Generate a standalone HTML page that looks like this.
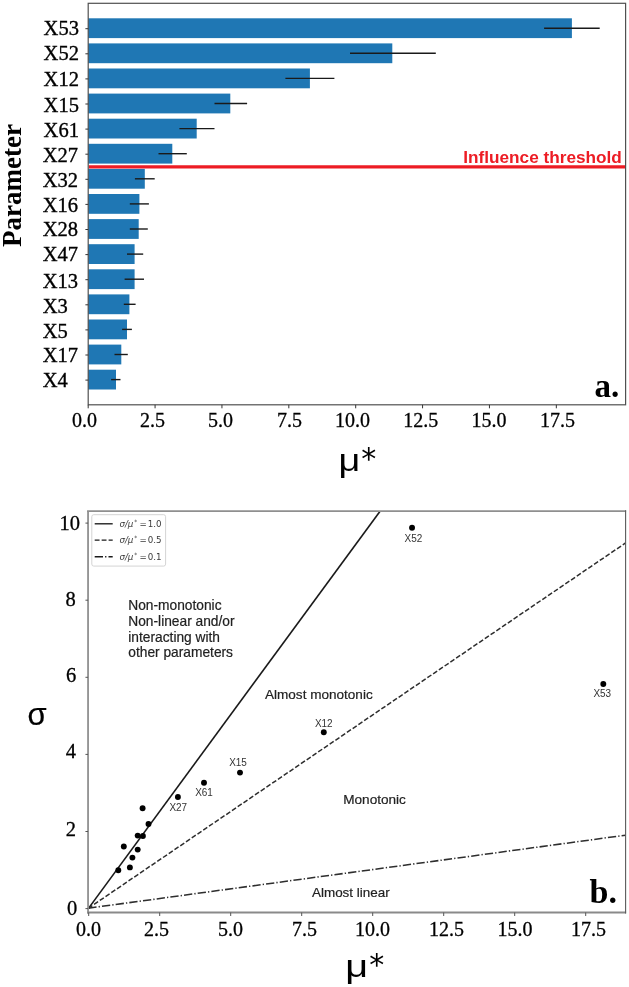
<!DOCTYPE html>
<html lang="en"><head><meta charset="utf-8"><title>Sensitivity analysis</title>
<style>html,body{margin:0;padding:0;background:#fff}svg{display:block}.ser{font-family:"Liberation Serif","DejaVu Serif",serif}.san{font-family:"Liberation Sans","DejaVu Sans",sans-serif}.dv{font-family:"DejaVu Sans","Liberation Sans",sans-serif}</style></head><body>
<svg width="629" height="987" viewBox="0 0 629 987">
<rect x="0" y="0" width="629" height="987" fill="#ffffff"/>
<g id="chart-a">
<g fill="#1f77b4">
<rect x="88.2" y="18.30" width="483.7" height="19.8"/>
<rect x="88.2" y="43.40" width="304.1" height="19.8"/>
<rect x="88.2" y="68.50" width="221.7" height="19.8"/>
<rect x="88.2" y="93.60" width="142.1" height="19.8"/>
<rect x="88.2" y="118.70" width="108.5" height="19.8"/>
<rect x="88.2" y="143.80" width="84.1" height="19.8"/>
<rect x="88.2" y="168.90" width="56.6" height="19.8"/>
<rect x="88.2" y="194.00" width="51.2" height="19.8"/>
<rect x="88.2" y="219.10" width="50.5" height="19.8"/>
<rect x="88.2" y="244.20" width="46.4" height="19.8"/>
<rect x="88.2" y="269.30" width="46.4" height="19.8"/>
<rect x="88.2" y="294.40" width="41.2" height="19.8"/>
<rect x="88.2" y="319.50" width="38.8" height="19.8"/>
<rect x="88.2" y="344.60" width="33.1" height="19.8"/>
<rect x="88.2" y="369.70" width="27.8" height="19.8"/>
</g>
<g stroke="#1a1a1a" stroke-width="1.4">
<line x1="544.1" y1="28.20" x2="599.7" y2="28.20"/>
<line x1="350" y1="53.30" x2="435.8" y2="53.30"/>
<line x1="285.4" y1="78.40" x2="334.4" y2="78.40"/>
<line x1="214.5" y1="103.50" x2="247.1" y2="103.50"/>
<line x1="179.4" y1="128.60" x2="214.5" y2="128.60"/>
<line x1="158.5" y1="153.70" x2="186.8" y2="153.70"/>
<line x1="134.9" y1="178.80" x2="154.7" y2="178.80"/>
<line x1="129.8" y1="203.90" x2="148.9" y2="203.90"/>
<line x1="129.8" y1="229.00" x2="147.8" y2="229.00"/>
<line x1="127" y1="254.10" x2="143.2" y2="254.10"/>
<line x1="124.6" y1="279.20" x2="144" y2="279.20"/>
<line x1="123.8" y1="304.30" x2="135.6" y2="304.30"/>
<line x1="122.1" y1="329.40" x2="131.9" y2="329.40"/>
<line x1="114.5" y1="354.50" x2="127.8" y2="354.50"/>
<line x1="111.1" y1="379.60" x2="120.5" y2="379.60"/>
</g>
<line x1="88.7" y1="166.8" x2="625.6" y2="166.8" stroke="#ed1c24" stroke-width="3.2"/>
<text class="san" x="621.8" y="163.3" text-anchor="end" font-size="17.2" font-weight="bold" fill="#ed1c24">Influence threshold</text>
<rect x="88.2" y="3.3" width="537.4" height="401.5" fill="none" stroke="#505050" stroke-width="1.2"/>
<g stroke="#333" stroke-width="1">
<line x1="85.4" y1="28.70" x2="88.2" y2="28.70"/>
<line x1="85.4" y1="53.80" x2="88.2" y2="53.80"/>
<line x1="85.4" y1="78.90" x2="88.2" y2="78.90"/>
<line x1="85.4" y1="104.00" x2="88.2" y2="104.00"/>
<line x1="85.4" y1="129.10" x2="88.2" y2="129.10"/>
<line x1="85.4" y1="154.20" x2="88.2" y2="154.20"/>
<line x1="85.4" y1="179.30" x2="88.2" y2="179.30"/>
<line x1="85.4" y1="204.40" x2="88.2" y2="204.40"/>
<line x1="85.4" y1="229.50" x2="88.2" y2="229.50"/>
<line x1="85.4" y1="254.60" x2="88.2" y2="254.60"/>
<line x1="85.4" y1="279.70" x2="88.2" y2="279.70"/>
<line x1="85.4" y1="304.80" x2="88.2" y2="304.80"/>
<line x1="85.4" y1="329.90" x2="88.2" y2="329.90"/>
<line x1="85.4" y1="355.00" x2="88.2" y2="355.00"/>
<line x1="85.4" y1="380.10" x2="88.2" y2="380.10"/>
<line x1="88.20" y1="404.8" x2="88.20" y2="408.3"/>
<line x1="155.07" y1="404.8" x2="155.07" y2="408.3"/>
<line x1="221.95" y1="404.8" x2="221.95" y2="408.3"/>
<line x1="288.82" y1="404.8" x2="288.82" y2="408.3"/>
<line x1="355.70" y1="404.8" x2="355.70" y2="408.3"/>
<line x1="422.57" y1="404.8" x2="422.57" y2="408.3"/>
<line x1="489.45" y1="404.8" x2="489.45" y2="408.3"/>
<line x1="556.33" y1="404.8" x2="556.33" y2="408.3"/>
</g>
<g class="ser" font-size="20.5" fill="#000" stroke="#000" stroke-width="0.35">
<text x="43.6" y="34.7">X53</text>
<text x="43.6" y="60.2">X52</text>
<text x="43.6" y="86.4">X12</text>
<text x="43.6" y="111.9">X15</text>
<text x="43.6" y="136.8">X61</text>
<text x="42.7" y="162.1">X27</text>
<text x="42.7" y="186.5">X32</text>
<text x="42.7" y="211.7">X16</text>
<text x="42.7" y="236.0">X28</text>
<text x="42.7" y="261.1">X47</text>
<text x="42.7" y="287.6">X13</text>
<text x="42.7" y="312.7">X3</text>
<text x="42.7" y="337.9">X5</text>
<text x="42.7" y="362.4">X17</text>
<text x="42.7" y="387.0">X4</text>
</g>
<g class="ser" font-size="20" fill="#000" text-anchor="middle" stroke="#000" stroke-width="0.3">
<text x="84.50" y="427.0">0.0</text>
<text x="152.50" y="427.0">2.5</text>
<text x="220.50" y="427.0">5.0</text>
<text x="289.50" y="427.0">7.5</text>
<text x="352.50" y="427.0">10.0</text>
<text x="420.80" y="427.0">12.5</text>
<text x="489.00" y="427.0">15.0</text>
<text x="557.50" y="427.0">17.5</text>
</g>
<text class="ser" transform="translate(21.4,185.5) rotate(-90)" text-anchor="middle" font-size="27" font-weight="bold" fill="#000">Parameter</text>
<text class="san" transform="translate(338.6,470.5) scale(1.24,1)" font-size="30.5" fill="#000">μ</text>
<text class="dv" x="361.2" y="468.6" font-size="30" fill="#000">*</text>
<text class="ser" x="594.5" y="396.6" font-size="33" font-weight="bold" fill="#000">a.</text>
</g>
<g id="chart-b">
<clipPath id="clipb"><rect x="88.05" y="511.2" width="537.5500000000001" height="401.3"/></clipPath>
<g clip-path="url(#clipb)" stroke="#1a1a1a" stroke-width="1.6" fill="none">
<line x1="88.3" y1="908.6" x2="380.07" y2="511.2"/>
<line x1="88.3" y1="908.3000000000001" x2="625.6" y2="542.94" stroke="#2e2e2e" stroke-width="1.5" stroke-dasharray="4.85 2.1"/>
<line x1="88.3" y1="908.2" x2="625.6" y2="835.17" stroke="#2e2e2e" stroke-width="1.55" stroke-dasharray="8.3 2.1 1.3 2.1"/>
</g>
<g fill="#000">
<circle cx="412.05" cy="527.8" r="2.95"/>
<circle cx="603.3" cy="684" r="2.95"/>
<circle cx="323.8" cy="732.3" r="2.95"/>
<circle cx="240" cy="772.6" r="2.95"/>
<circle cx="204" cy="782.8" r="2.95"/>
<circle cx="177.9" cy="797.0" r="2.95"/>
<circle cx="142.6" cy="808.3" r="2.95"/>
<circle cx="148.5" cy="824.0" r="2.95"/>
<circle cx="137.7" cy="835.6" r="2.95"/>
<circle cx="142.9" cy="836.0" r="2.95"/>
<circle cx="123.8" cy="846.5" r="2.95"/>
<circle cx="137.7" cy="849.6" r="2.95"/>
<circle cx="132.4" cy="857.6" r="2.95"/>
<circle cx="129.9" cy="867.4" r="2.95"/>
<circle cx="118.3" cy="870.3" r="2.95"/>
</g>
<g class="san" font-size="11" fill="#333" text-anchor="middle">
<text x="413.4" y="541.8" textLength="17.7" lengthAdjust="spacingAndGlyphs">X52</text>
<text x="602.3" y="697" textLength="17.7" lengthAdjust="spacingAndGlyphs">X53</text>
<text x="323.8" y="726.5" textLength="17.7" lengthAdjust="spacingAndGlyphs">X12</text>
<text x="238" y="766.3" textLength="17.7" lengthAdjust="spacingAndGlyphs">X15</text>
<text x="204" y="796" textLength="17.7" lengthAdjust="spacingAndGlyphs">X61</text>
<text x="178.3" y="810.5" textLength="17.7" lengthAdjust="spacingAndGlyphs">X27</text>
</g>
<line x1="87.05" y1="511.2" x2="626.1" y2="511.2" stroke="#8f8f8f" stroke-width="1.7"/>
<line x1="88.05" y1="511.2" x2="88.05" y2="913.5" stroke="#909090" stroke-width="1.8"/>
<line x1="87.05" y1="912.5" x2="626.1" y2="912.5" stroke="#8a8a8a" stroke-width="1.9"/>
<line x1="625.6" y1="510.2" x2="625.6" y2="913.5" stroke="#5a5a5a" stroke-width="1.1"/>
<g stroke="#555" stroke-width="1">
<line x1="85.45" y1="908.60" x2="88.05" y2="908.60"/>
<line x1="85.45" y1="831.50" x2="88.05" y2="831.50"/>
<line x1="85.45" y1="754.40" x2="88.05" y2="754.40"/>
<line x1="85.45" y1="677.30" x2="88.05" y2="677.30"/>
<line x1="85.45" y1="600.20" x2="88.05" y2="600.20"/>
<line x1="85.45" y1="523.10" x2="88.05" y2="523.10"/>
<line x1="88.70" y1="912.5" x2="88.70" y2="916.0"/>
<line x1="159.70" y1="912.5" x2="159.70" y2="916.0"/>
<line x1="230.70" y1="912.5" x2="230.70" y2="916.0"/>
<line x1="301.70" y1="912.5" x2="301.70" y2="916.0"/>
<line x1="372.70" y1="912.5" x2="372.70" y2="916.0"/>
<line x1="443.70" y1="912.5" x2="443.70" y2="916.0"/>
<line x1="514.70" y1="912.5" x2="514.70" y2="916.0"/>
<line x1="585.70" y1="912.5" x2="585.70" y2="916.0"/>
</g>
<g class="ser" font-size="20.5" fill="#000" text-anchor="middle" stroke="#000" stroke-width="0.3">
<text x="69.7" y="530.3">10</text>
<text x="70.5" y="605.9">8</text>
<text x="71.2" y="681.7">6</text>
<text x="70.9" y="758.4">4</text>
<text x="70.9" y="836.0">2</text>
<text x="72.2" y="915.2">0</text>
</g>
<g class="ser" font-size="20" fill="#000" text-anchor="middle" stroke="#000" stroke-width="0.3">
<text x="88.50" y="936.3">0.0</text>
<text x="156.50" y="936.3">2.5</text>
<text x="230.60" y="936.3">5.0</text>
<text x="304.60" y="936.3">7.5</text>
<text x="372.40" y="936.3">10.0</text>
<text x="446.40" y="936.3">12.5</text>
<text x="515.00" y="936.3">15.0</text>
<text x="588.60" y="936.3">17.5</text>
</g>
<rect x="91.8" y="514.7" width="73.8" height="51.4" rx="2" ry="2" fill="#fff" fill-opacity="0.8" stroke="#cfcfcf" stroke-width="0.9"/>
<g stroke="#1a1a1a" stroke-width="1.35">
<line x1="94.7" y1="523.8" x2="112.7" y2="523.8"/>
<line x1="94.7" y1="540.1" x2="112.7" y2="540.1" stroke-dasharray="4.85 2.1"/>
<line x1="94.7" y1="556.7" x2="112.7" y2="556.7" stroke-dasharray="8.3 2.1 1.3 2.1"/>
</g>
<g class="dv" font-size="8.7" fill="#3a3a3a">
<text x="119.4" y="527.1"><tspan font-style="italic">σ/μ</tspan><tspan font-size="6" dy="-3.2" dx="1">*</tspan><tspan dy="3.2" dx="2.2">=</tspan><tspan dx="0.8">1.0</tspan></text>
<text x="119.4" y="543.4"><tspan font-style="italic">σ/μ</tspan><tspan font-size="6" dy="-3.2" dx="1">*</tspan><tspan dy="3.2" dx="2.2">=</tspan><tspan dx="0.8">0.5</tspan></text>
<text x="119.4" y="560.0"><tspan font-style="italic">σ/μ</tspan><tspan font-size="6" dy="-3.2" dx="1">*</tspan><tspan dy="3.2" dx="2.2">=</tspan><tspan dx="0.8">0.1</tspan></text>
</g>
<g class="san" font-size="13.75" fill="#222" stroke="#222" stroke-width="0.2">
<text x="128.3" y="609.8">Non-monotonic</text>
<text x="128.3" y="625.7">Non-linear and/or</text>
<text x="128.3" y="641.6">interacting with</text>
<text x="128.3" y="657.4">other parameters</text>
<text x="265.0" y="699.3" font-size="13.55">Almost monotonic</text>
<text x="343.2" y="804.4" font-size="13.6">Monotonic</text>
<text x="312.0" y="897.3" font-size="13.45">Almost linear</text>
</g>
<text class="san" x="27.5" y="725" font-size="31" fill="#000" stroke="#000" stroke-width="0.2">σ</text>
<text class="san" transform="translate(345.2,976.5) scale(1.24,1)" font-size="32" fill="#000">μ</text>
<text class="dv" x="369.3" y="975" font-size="30" fill="#000">*</text>
<text class="ser" x="589.5" y="903.0" font-size="34" font-weight="bold" fill="#000">b.</text>
</g>
</svg></body></html>
